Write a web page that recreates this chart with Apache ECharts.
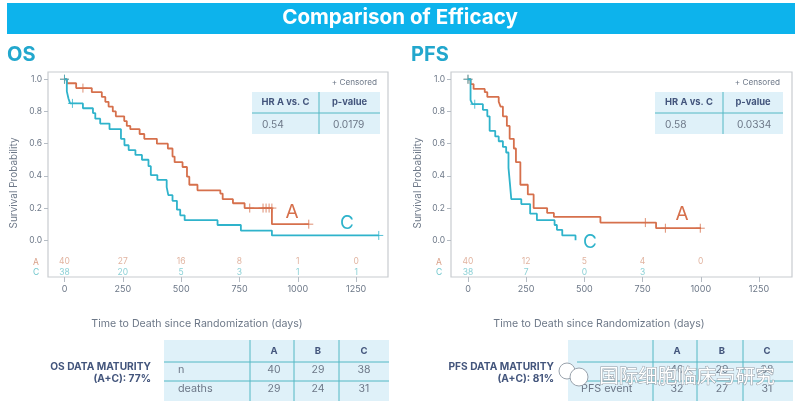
<!DOCTYPE html>
<html lang="en">
<head>
    <meta charset="UTF-8">
    <title>Comparison of Efficacy</title>
    <style>
        html, body { margin: 0; padding: 0; background: #fff; }
        #chart { width: 800px; height: 411px; }
    </style>
</head>
<body>
<div id="chart"></div>

<script src="https://cdn.jsdelivr.net/npm/echarts@6/dist/echarts.min.js"></script>
<script>
    // OS curves
    var osADays = [0, 10, 50, 117, 160, 175, 189, 207, 220, 256, 267, 282, 322, 342, 396, 443, 463, 472, 506, 525, 535, 570, 668, 678, 722, 772, 889, 1047];
    var osASurv = [1, 0.975, 0.945, 0.92, 0.89, 0.86, 0.83, 0.8, 0.77, 0.74, 0.71, 0.69, 0.66, 0.63, 0.6, 0.57, 0.52, 0.485, 0.455, 0.395, 0.345, 0.31, 0.29, 0.255, 0.23, 0.2, 0.1, 0.1];
    var osCDays = [0, 10, 17, 24, 79, 122, 132, 153, 193, 242, 257, 275, 304, 332, 360, 370, 398, 438, 445, 463, 482, 496, 515, 656, 756, 889, 1347];
    var osCSurv = [1, 0.925, 0.88, 0.85, 0.82, 0.79, 0.755, 0.725, 0.69, 0.63, 0.59, 0.56, 0.53, 0.5, 0.46, 0.405, 0.375, 0.33, 0.28, 0.245, 0.19, 0.155, 0.125, 0.095, 0.06, 0.03, 0.03];
    var osACensor = [[0, 1], [79, 0.945], [794, 0.2], [851, 0.2], [864, 0.2], [877, 0.2], [889, 0.2], [1047, 0.1]];
    var osCCensor = [[0, 1], [34, 0.85], [1347, 0.03]];

    // PFS curves
    var pfsADays = [0, 11, 24, 72, 83, 132, 140, 150, 167, 179, 197, 206, 225, 257, 282, 340, 369, 569, 808, 1001];
    var pfsASurv = [1, 0.97, 0.94, 0.92, 0.89, 0.86, 0.83, 0.77, 0.71, 0.63, 0.57, 0.485, 0.345, 0.285, 0.2, 0.17, 0.145, 0.11, 0.075, 0.075];
    var pfsCDays = [0, 11, 19, 64, 83, 93, 117, 132, 150, 164, 174, 180, 186, 229, 267, 296, 372, 382, 405, 462];
    var pfsCSurv = [1, 0.87, 0.845, 0.81, 0.77, 0.68, 0.645, 0.615, 0.58, 0.545, 0.45, 0.355, 0.255, 0.225, 0.165, 0.125, 0.095, 0.065, 0.03, 0];
    var pfsACensor = [[0, 1], [762, 0.11], [848, 0.075], [998, 0.075]];
    var pfsCCensor = [[0, 1], [29, 0.845]];

    // number at risk
    var osRiskDays = [0, 250, 500, 750, 1000, 1250];
    var osRiskA = [40, 27, 16, 8, 1, 0];
    var osRiskC = [38, 20, 5, 3, 1, 1];
    var pfsRiskADays = [0, 250, 500, 750, 1000];
    var pfsRiskCDays = [0, 250, 500, 750];
    var pfsRiskA = [40, 12, 5, 4, 0];
    var pfsRiskC = [38, 7, 0, 3];

    // ticks
    var xTicks = [0, 250, 500, 750, 1000, 1250];
    var yTicks = [0, 0.2, 0.4, 0.6, 0.8, 1];

    // tables
    var hrHeader = ['HR A vs. C', 'p-value'];
    var osHr = ['0.54', '0.0179'];
    var pfsHr = ['0.58', '0.0334'];
    var armNames = ['A', 'B', 'C'];
    var osRowNames = ['n', 'deaths'];
    var osRows = [['40', '29', '38'], ['29', '24', '31']];
    var pfsRowNames = ['', 'PFS event'];
    var pfsRows = [['40', '29', '38'], ['32', '27', '31']];

    var FONT = 'Inter, "Open Sans", sans-serif';
    var ORANGE = '#d6704c';
    var TEAL = '#2fb3cb';
    var GRAY = '#6d7888';
    var NAVY = '#43557c';
    var CELL = '#dff1f9';
    var RULE = '#52b8c4';
    var PLUS = 'path://M5 0V10M0 5H10';

    function zip(xs, ys) {
        return xs.map(function (x, i) { return [x, ys[i]]; });
    }

    function curve(grid, days, surv, color) {
        return {
            type: 'line', step: 'end', xAxisIndex: grid, yAxisIndex: grid,
            data: zip(days, surv), showSymbol: false, animation: false,
            lineStyle: { color: color, width: 1.8 }
        };
    }

    function censor(grid, points, color) {
        return {
            type: 'scatter', xAxisIndex: grid, yAxisIndex: grid, data: points,
            symbol: PLUS, symbolSize: 9, animation: false,
            itemStyle: { color: 'none', borderColor: color, borderWidth: 1 }
        };
    }

    // the at-risk numbers sit inside the plot box, below zero
    function risk(grid, days, counts, row, color) {
        return {
            type: 'scatter', xAxisIndex: grid, yAxisIndex: grid, symbolSize: 0, animation: false,
            data: days.map(function (d, i) { return { value: [d, row], label: { formatter: String(counts[i]) } }; }),
            label: { show: true, position: 'inside', color: color, fontSize: 8.5, fontFamily: FONT }
        };
    }

    function xAxis(grid, min, max) {
        return {
            type: 'value', gridIndex: grid, min: min, max: max,
            splitLine: { show: false },
            axisLine: { show: false, onZero: false },
            axisTick: { customValues: xTicks, length: 5, lineStyle: { color: '#b5bcc4' } },
            axisLabel: {
                customValues: xTicks, color: GRAY, fontSize: 9, fontFamily: FONT, margin: 8,
                formatter: function (v) { return String(v); }
            }
        };
    }

    function yAxis(grid) {
        return {
            type: 'value', gridIndex: grid, min: -0.228, max: 1.045,
            splitLine: { show: false },
            axisLine: { show: false, onZero: false },
            axisTick: { customValues: yTicks, length: 4, lineStyle: { color: '#b5bcc4' } },
            axisLabel: {
                customValues: yTicks, color: GRAY, fontSize: 8.5, fontFamily: FONT, margin: 6,
                formatter: function (v) { return v.toFixed(1); }
            }
        };
    }

    function text(x, y, str, size, color, extra) {
        var style = { x: x, y: y, text: str, fontSize: size, fill: color, fontFamily: FONT, textAlign: 'center', textVerticalAlign: 'middle' };
        for (var k in extra) { style[k] = extra[k]; }
        return { type: 'text', z: 20, style: style };
    }

    function rect(x, y, w, h, fill) {
        return { type: 'rect', z: 10, shape: { x: x, y: y, width: w, height: h }, style: { fill: fill } };
    }

    function rule(x1, y1, x2, y2) {
        return { type: 'line', z: 11, shape: { x1: x1, y1: y1, x2: x2, y2: y2 }, style: { stroke: RULE, lineWidth: 1 } };
    }

    function hrTable(left, split, right, values) {
        var cx1 = (left + split) / 2, cx2 = (split + right) / 2;
        return [
            rect(left, 92, right - left, 42, CELL),
            rule(left, 113, right, 113),
            rule(split, 92, split, 134),
            text(cx1, 102, hrHeader[0], 9.4, NAVY, { fontWeight: 'bold' }),
            text(cx2, 102, hrHeader[1], 9.4, NAVY, { fontWeight: 'bold' }),
            text(left + 10, 125, values[0], 10.2, GRAY, { textAlign: 'left' }),
            text(split + 14, 125, values[1], 10.2, GRAY, { textAlign: 'left' }),
            text(right - 3, 83, '+ Censored', 8.2, GRAY, { textAlign: 'right' })
        ];
    }

    function maturityTable(left, right, cols, centers, nameX, names, rows, ruleFrom) {
        var out = [rect(left, 340, right - left, 61, CELL), rule(ruleFrom, 362, right, 362), rule(ruleFrom, 381, right, 381)];
        cols.forEach(function (c) { out.push(rule(c, 340, c, 401)); });
        armNames.forEach(function (n, i) {
            out.push(text(centers[i], 351, n, 9.5, NAVY, { fontWeight: 'bold' }));
            out.push(text(centers[i], 370, rows[0][i], 10.5, GRAY));
            out.push(text(centers[i], 389, rows[1][i], 10.5, GRAY));
        });
        out.push(text(nameX, 370, names[0], 10.8, GRAY, { textAlign: 'left' }));
        out.push(text(nameX, 389, names[1], 10.8, GRAY, { textAlign: 'left' }));
        return out;
    }

    var graphics = [
        rect(7, 3, 788, 31, '#0db3ec'),
        text(400, 18, 'Comparison of Efficacy', 20.6, '#fff', { fontWeight: 'bold' }),
        text(7, 55, 'OS', 20, '#22a7cd', { fontWeight: 'bold', textAlign: 'left' }),
        text(411, 55, 'PFS', 20, '#22a7cd', { fontWeight: 'bold', textAlign: 'left' }),
        text(197, 324, 'Time to Death since Randomization (days)', 10.6, GRAY),
        text(599, 324, 'Time to Death since Randomization (days)', 10.6, GRAY),
        text(36, 262, 'A', 8.5, '#d9a088'), text(36, 272, 'C', 8.5, '#6fc6cc'),
        text(439, 262, 'A', 8.5, '#d9a088'), text(439, 272, 'C', 8.5, '#6fc6cc'),
        text(292, 212, 'A', 19, ORANGE), text(347, 223, 'C', 19, TEAL),
        text(682, 214, 'A', 19, ORANGE), text(590, 242, 'C', 19, TEAL),
        text(151, 367, 'OS DATA MATURITY', 10.2, NAVY, { fontWeight: 'bold', textAlign: 'right' }),
        text(151, 379, '(A+C): 77%', 10.2, NAVY, { fontWeight: 'bold', textAlign: 'right' }),
        text(554, 367, 'PFS DATA MATURITY', 10.2, NAVY, { fontWeight: 'bold', textAlign: 'right' }),
        text(554, 379, '(A+C): 81%', 10.2, NAVY, { fontWeight: 'bold', textAlign: 'right' })
    ];
    [[14, 183], [418, 183]].forEach(function (p) {
        var t = text(0, 0, 'Survival Probability', 10, GRAY);
        t.x = p[0]; t.y = p[1]; t.rotation = Math.PI / 2;
        graphics.push(t);
    });
    graphics = graphics.concat(
        hrTable(252, 319, 380, osHr),
        hrTable(655, 723, 783, pfsHr),
        maturityTable(164, 389, [250, 294, 339], [274, 318, 364], 178, osRowNames, osRows, 164),
        maturityTable(568, 793, [653, 697, 743], [677, 722, 767], 581, pfsRowNames, pfsRows, 577)
    );
    // watermark over the PFS table
    var watermark = text(687, 376, '国际细胞临床与研究', 19.5, '#fff', {
        fontFamily: '"Noto Sans CJK SC"', stroke: '#8f99a3', lineWidth: 1
    });
    watermark.z = 32;
    graphics.push(
        { type: 'circle', z: 30, shape: { cx: 567, cy: 371, r: 8 }, style: { fill: '#fff', stroke: '#9aa3ad', lineWidth: 1 } },
        { type: 'circle', z: 31, shape: { cx: 579, cy: 377, r: 9 }, style: { fill: '#fff', stroke: '#9aa3ad', lineWidth: 1 } },
        watermark
    );

    var myChart = echarts.init(document.getElementById('chart'));
    var gridBox = { show: true, borderColor: '#c8ccd0', borderWidth: 1.2, backgroundColor: '#fff' };
    var option = {
        backgroundColor: '#fff',
        animation: false,
        grid: [
            Object.assign({ left: 48, top: 72, width: 340, height: 205 }, gridBox),
            Object.assign({ left: 451, top: 72, width: 341, height: 205 }, gridBox)
        ],
        xAxis: [xAxis(0, -70.7, 1386.6), xAxis(1, -73, 1392)],
        yAxis: [yAxis(0), yAxis(1)],
        series: [
            curve(0, osADays, osASurv, ORANGE),
            censor(0, osACensor, ORANGE),
            curve(0, osCDays, osCSurv, TEAL),
            censor(0, osCCensor, TEAL),
            risk(0, osRiskDays, osRiskA, -0.133, '#d9a088'),
            risk(0, osRiskDays, osRiskC, -0.197, '#6fc6cc'),
            curve(1, pfsADays, pfsASurv, ORANGE),
            censor(1, pfsACensor, ORANGE),
            curve(1, pfsCDays, pfsCSurv, TEAL),
            censor(1, pfsCCensor, TEAL),
            risk(1, pfsRiskADays, pfsRiskA, -0.133, '#d9a088'),
            risk(1, pfsRiskCDays, pfsRiskC, -0.197, '#6fc6cc')
        ],
        graphic: graphics
    };
    myChart.setOption(option);
</script>

</body>
</html>
